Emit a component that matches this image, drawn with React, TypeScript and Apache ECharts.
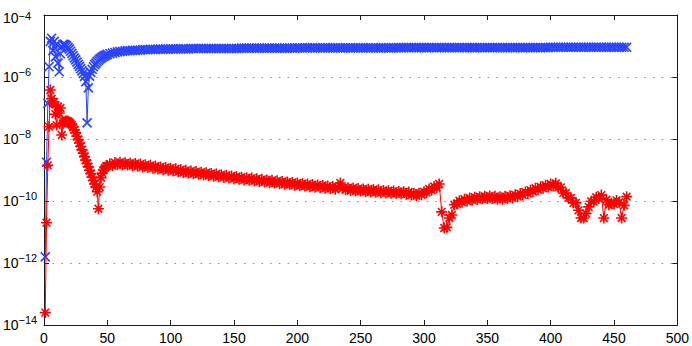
import React, { useEffect, useRef } from "react";
import * as echarts from "echarts";

// iteration counts: every step for 1..49, then every second step up to 460
const denseLast = 49;
const sparseFirst = 50;
const sparseLast = 460;
const sparseStep = 2;

// log10 of the blue series (x markers)
const blueEarly = [
  -11.8, -8.75, -6.85, -5.67, -4.85, -4.75, -5.15, -4.85, -5.35, -4.95,
  -5.55, -5.83, -5.25, -5.02, -4.95, -4.95, -4.97, -5.0, -5.05, -5.1,
  -5.17, -5.24, -5.31, -5.38, -5.45, -5.52, -5.59, -5.66, -5.73, -5.8,
  -5.88, -5.98, -6.15, -7.48, -6.35, -5.97, -5.85, -5.75, -5.67, -5.6,
  -5.55, -5.5, -5.46, -5.42, -5.39, -5.36, -5.33, -5.31, -5.29,
];
const blueLate = [
  -5.27, -5.25, -5.23, -5.21, -5.19, -5.18, -5.17, -5.16, -5.15, -5.15,
  -5.14, -5.14, -5.13, -5.13, -5.12, -5.12, -5.12, -5.11, -5.11, -5.11,
  -5.1, -5.1, -5.1, -5.1, -5.1, -5.09, -5.09, -5.09, -5.09, -5.09,
  -5.09, -5.09, -5.09, -5.08, -5.08, -5.08, -5.08, -5.08, -5.08, -5.08,
  -5.08, -5.08, -5.08, -5.08, -5.08, -5.08, -5.08, -5.08, -5.08, -5.08,
  -5.08, -5.08, -5.08, -5.07, -5.07, -5.07, -5.07, -5.07, -5.07, -5.07,
  -5.07, -5.07, -5.07, -5.07, -5.07, -5.07, -5.07, -5.07, -5.07, -5.07,
  -5.07, -5.07, -5.07, -5.07, -5.07, -5.06, -5.06, -5.06, -5.06, -5.06,
  -5.06, -5.06, -5.06, -5.06, -5.06, -5.06, -5.06, -5.06, -5.06, -5.06,
  -5.06, -5.06, -5.06, -5.06, -5.06, -5.06, -5.06, -5.06, -5.06, -5.06,
  -5.06, -5.06, -5.06, -5.06, -5.06, -5.06, -5.06, -5.06, -5.06, -5.06,
  -5.06, -5.06, -5.06, -5.06, -5.06, -5.05, -5.05, -5.05, -5.05, -5.05,
  -5.05, -5.05, -5.05, -5.05, -5.05, -5.05, -5.05, -5.05, -5.05, -5.05,
  -5.05, -5.05, -5.05, -5.05, -5.05, -5.05, -5.05, -5.05, -5.05, -5.05,
  -5.05, -5.05, -5.05, -5.05, -5.05, -5.05, -5.05, -5.05, -5.05, -5.05,
  -5.05, -5.05, -5.05, -5.05, -5.05, -5.05, -5.05, -5.05, -5.05, -5.05,
  -5.05, -5.05, -5.05, -5.05, -5.05, -5.05, -5.05, -5.05, -5.05, -5.05,
  -5.05, -5.05, -5.05, -5.05, -5.05, -5.04, -5.04, -5.04, -5.04, -5.04,
  -5.04, -5.04, -5.04, -5.04, -5.04, -5.04, -5.04, -5.04, -5.04, -5.04,
  -5.04, -5.04, -5.04, -5.04, -5.04, -5.04, -5.04, -5.04, -5.04, -5.04,
  -5.04, -5.04, -5.04, -5.04, -5.04, -5.04,
];

// log10 of the red series (* markers)
const redEarly = [
  -13.6, -10.7, -8.85, -7.6, -6.42, -6.7, -6.85, -6.8, -7.2, -7.55,
  -6.96, -7.16, -7.0, -7.87, -7.5, -7.45, -7.42, -7.42, -7.43, -7.46,
  -7.5, -7.55, -7.62, -7.7, -7.8, -7.91, -8.02, -8.13, -8.24, -8.35,
  -8.46, -8.57, -8.68, -8.79, -8.9, -9.01, -9.12, -9.23, -9.34, -9.45,
  -9.56, -9.7, -10.25, -9.55, -9.25, -9.1, -9.0, -8.93, -8.88,
];
const redLate = [
  -8.87, -8.8, -8.86, -8.76, -8.83, -8.75, -8.83, -8.77, -8.84, -8.78,
  -8.86, -8.79, -8.88, -8.81, -8.9, -8.83, -8.92, -8.85, -8.94, -8.87,
  -8.97, -8.9, -8.99, -8.92, -9.01, -8.94, -9.03, -8.96, -9.06, -8.99,
  -9.08, -9.01, -9.1, -9.03, -9.12, -9.05, -9.14, -9.07, -9.16, -9.09,
  -9.18, -9.11, -9.2, -9.13, -9.22, -9.15, -9.24, -9.17, -9.26, -9.19,
  -9.28, -9.21, -9.3, -9.23, -9.32, -9.25, -9.33, -9.26, -9.35, -9.28,
  -9.37, -9.3, -9.39, -9.32, -9.41, -9.33, -9.42, -9.35, -9.44, -9.37,
  -9.46, -9.39, -9.47, -9.4, -9.49, -9.42, -9.51, -9.44, -9.52, -9.45,
  -9.54, -9.47, -9.56, -9.48, -9.57, -9.5, -9.59, -9.52, -9.6, -9.53,
  -9.62, -9.55, -9.42, -9.58, -9.64, -9.57, -9.66, -9.58, -9.67, -9.6,
  -9.68, -9.61, -9.7, -9.62, -9.71, -9.63, -9.72, -9.64, -9.73, -9.66,
  -9.74, -9.67, -9.75, -9.68, -9.76, -9.69, -9.77, -9.7, -9.78, -9.71,
  -9.81, -9.75, -9.83, -9.75, -9.8, -9.7, -9.73, -9.61, -9.65, -9.53,
  -9.57, -9.45, -10.35, -10.87, -10.85, -10.55, -10.45, -10.12, -10.09, -9.99,
  -10.04, -9.94, -10.0, -9.9, -9.97, -9.88, -9.95, -9.86, -9.93, -9.85,
  -9.92, -9.84, -9.92, -9.85, -9.94, -9.86, -9.94, -9.85, -9.92, -9.83,
  -9.9, -9.8, -9.86, -9.76, -9.81, -9.71, -9.76, -9.65, -9.7, -9.59,
  -9.64, -9.54, -9.59, -9.49, -9.55, -9.45, -9.52, -9.43, -9.56, -9.56,
  -9.74, -9.74, -9.9, -9.9, -10.06, -10.06, -10.3, -10.55, -10.55, -10.4,
  -10.19, -10.01, -10.02, -9.88, -9.92, -9.81, -10.55, -9.96, -10.12, -10.08,
  -10.1, -9.98, -10.04, -10.55, -10.14, -9.86,
];

const xTicks = { min: 0, max: 500, interval: 50 };
const yTicks = { min: -14, max: -4, interval: 2 };

function iterations(): number[] {
  const it: number[] = [];
  for (let i = 1; i <= denseLast; i++) it.push(i);
  for (let i = sparseFirst; i <= sparseLast; i += sparseStep) it.push(i);
  return it;
}

function pairs(xs: number[], ys: number[]): number[][] {
  const n = Math.min(xs.length, ys.length);
  const out: number[][] = [];
  for (let i = 0; i < n; i++) out.push([xs[i], ys[i]]);
  return out;
}

const FONT = "Liberation Sans, Arial, Helvetica, sans-serif";
const BLUE = "#2a44ff";
const RED = "#ff0000";
const AXIS = "#1a1a1a";

export default function App() {
  const ref = useRef<HTMLDivElement>(null);
  useEffect(() => {
    if (!ref.current) return;
    const chart = echarts.init(ref.current, null, { renderer: "svg" });
    const xs = iterations();
    const blue = pairs(xs, blueEarly.concat(blueLate));
    const red = pairs(xs, redEarly.concat(redLate));

    const axisLine = { show: true, onZero: false, lineStyle: { color: AXIS, width: 1 } };
    const axisTick = { show: true, inside: true, length: 5, lineStyle: { color: AXIS, width: 1 } };

    chart.setOption({
      animation: false,
      backgroundColor: "#ffffff",
      grid: { left: 42, right: 13, top: 15, bottom: 21, containLabel: false },
      xAxis: [
        {
          type: "value",
          position: "bottom",
          ...xTicks,
          axisLine,
          axisTick,
          splitLine: { show: false },
          axisLabel: { fontSize: 14, fontFamily: FONT, color: "#000", margin: 6 },
        },
        {
          type: "value",
          position: "top",
          ...xTicks,
          axisLine,
          axisTick,
          splitLine: { show: false },
          axisLabel: { show: false },
        },
      ],
      yAxis: [
        {
          type: "value",
          position: "left",
          ...yTicks,
          axisLine,
          axisTick,
          splitLine: {
            show: true,
            lineStyle: { color: "#8a8a8a", width: 1, type: [1.5, 7.2] },
          },
          axisLabel: {
            align: "left",
            margin: 41,
            formatter: (v: number) =>
              v === -4
                ? `{c|10}{d|\u22124}`
                : `{a|10}{b|${v < 0 ? "\u2212" + Math.abs(v) : v}}`,
            rich: {
              a: { fontSize: 14, fontFamily: FONT, color: "#000", lineHeight: 22 },
              b: { fontSize: 11, fontFamily: FONT, color: "#000", lineHeight: 12, verticalAlign: "top" },
              c: { fontSize: 14, fontFamily: FONT, color: "#000", lineHeight: 22, padding: [6, 0, 0, 0] },
              d: { fontSize: 11, fontFamily: FONT, color: "#000", lineHeight: 12, verticalAlign: "top", padding: [6, 0, 0, 0] },
            },
          },
        },
        {
          type: "value",
          position: "right",
          ...yTicks,
          axisLine,
          axisTick,
          splitLine: { show: false },
          axisLabel: { show: false },
        },
      ],
      series: [
        {
          type: "line",
          name: "blue",
          xAxisIndex: 0,
          yAxisIndex: 0,
          data: blue,
          symbol: "path://M0 0L10 10M10 0L0 10",
          symbolSize: 9,
          showSymbol: true,
          showAllSymbol: true,
          lineStyle: { color: BLUE, width: 1 },
          itemStyle: { color: BLUE, borderColor: BLUE, borderWidth: 1.7 },
          emphasis: { disabled: true },
          silent: true,
          z: 2,
        },
        {
          type: "line",
          name: "red",
          xAxisIndex: 0,
          yAxisIndex: 0,
          data: red,
          symbol: "path://M0 5L10 5M5 0L5 10M1.5 1.5L8.5 8.5M8.5 1.5L1.5 8.5",
          symbolSize: 11,
          showSymbol: true,
          showAllSymbol: true,
          lineStyle: { color: RED, width: 1 },
          itemStyle: { color: RED, borderColor: RED, borderWidth: 1.6 },
          emphasis: { disabled: true },
          silent: true,
          z: 3,
        },
      ],
    });
    return () => chart.dispose();
  }, []);

  return (
    <div
      ref={ref}
      style={{ position: "absolute", left: 0, top: 0, width: 692, height: 346, background: "#fff" }}
    />
  );
}
